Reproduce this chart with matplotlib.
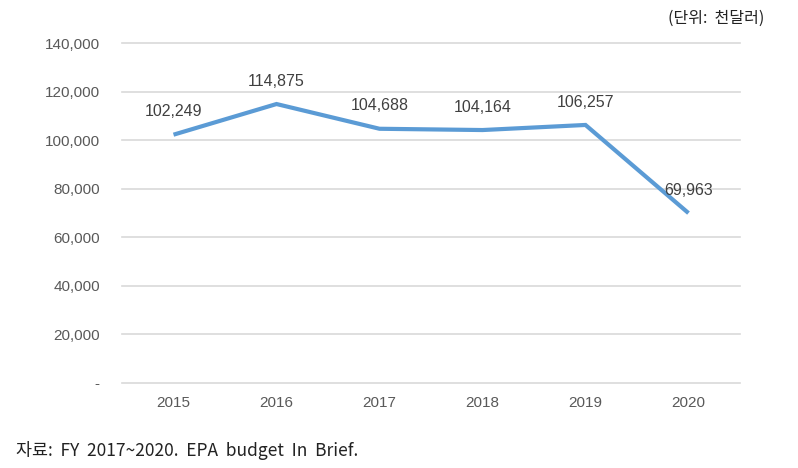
import matplotlib
matplotlib.use("Agg")
import matplotlib.pyplot as plt
from matplotlib.ticker import FuncFormatter

years = ["2015", "2016", "2017", "2018", "2019", "2020"]
values = [102249, 114875, 104688, 104164, 106257, 69963]
yticks = [0, 20000, 40000, 60000, 80000, 100000, 120000, 140000]

plt.rcParams['font.family'] = ['Liberation Sans', 'Noto Sans CJK KR', 'DejaVu Sans']

fig = plt.figure(figsize=(7.98, 4.68), dpi=100)
ax = fig.add_axes([0.1529, 0.1816, 0.7744, 0.7265])

x = list(range(len(years)))
ax.plot(x, values, color="#5B9BD5", lw=3, solid_capstyle='butt', solid_joinstyle='miter', zorder=3)

for xi, v in zip(x, values):
    ax.annotate(f"{v:,}", (xi, v), xytext=(0, 11), textcoords="offset points",
                ha="center", va="bottom", fontsize=11.5, color="#404040")

ax.set_xlim(-0.5, len(years) - 0.5)
ax.set_ylim(0, 140000)
ax.set_yticks(yticks)
ax.yaxis.set_major_formatter(FuncFormatter(lambda v, p: "-" if v == 0 else f"{int(v):,}"))
ax.set_xticks(x)
ax.set_xticklabels(years)
ax.grid(axis="y", color="#D9D9D9", lw=1.2)
for gl in ax.get_ygridlines():
    gl.set_clip_on(False)
ax.set_axisbelow(True)
for s in ax.spines.values():
    s.set_visible(False)
ax.tick_params(axis="both", length=0, colors="#595959", labelsize=11)
ax.tick_params(axis="y", pad=16)
ax.tick_params(axis="x", pad=9)

fig.text(0.958, 0.978, "(단위:  천달러)", ha="right", va="top", fontsize=11.5,
         color="#222222", family=['Noto Sans CJK KR', 'DejaVu Sans'])
fig.text(0.02, 0.018, "자료:  FY  2017~2020.  EPA  budget  In  Brief.", ha="left", va="bottom",
         fontsize=12.5, color="#222222", family=['Noto Sans CJK KR', 'DejaVu Sans'])

fig.savefig("out.png", dpi=100)
